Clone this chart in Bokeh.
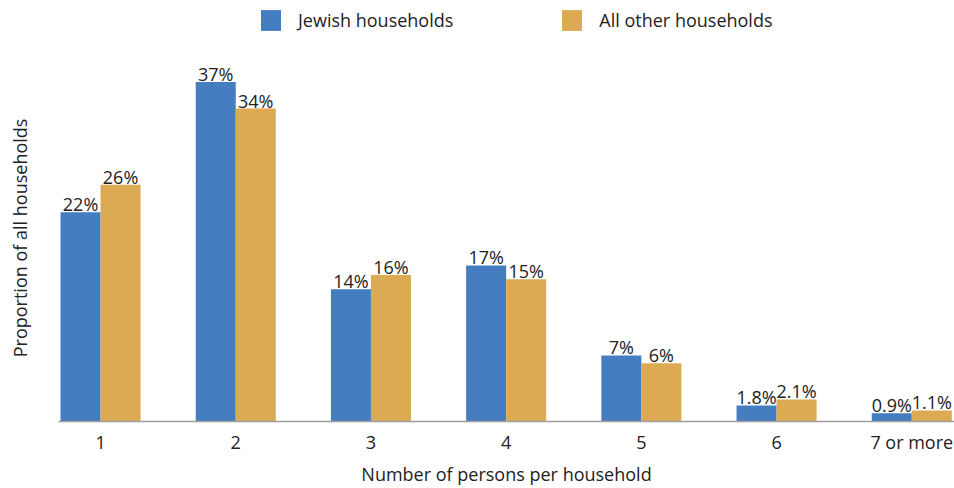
import math
from bokeh.plotting import figure
from bokeh.layouts import row
from bokeh.models import ColumnDataSource, FixedTicker, Legend, LegendItem, Range1d
from bokeh.transform import dodge
from bokeh.core.properties import value
from bokeh.embed import file_html
from bokeh.resources import INLINE

categories = ["1", "2", "3", "4", "5", "6", "7 or more"]
jewish = [22.8, 37.0, 14.4, 17.0, 7.2, 1.75, 0.9]
other = [25.8, 34.1, 15.95, 15.5, 6.35, 2.4, 1.2]
jewish_labels = ["22%", "37%", "14%", "17%", "7%", "1.8%", "0.9%"]
other_labels = ["26%", "34%", "16%", "15%", "6%", "2.1%", "1.1%"]
y_title = "Proportion of all households"
x_title = "Number of persons per household"

FONT = "Open Sans"
FS = "18px"
BLUE = "#447DC0"
GOLD = "#DCAA52"
TXT = "#222222"

xs = list(range(1, len(categories) + 1))
src = ColumnDataSource(dict(x=xs, jewish=jewish, other=other,
                            jl=jewish_labels, ol=other_labels))

p = figure(width=896, height=488, output_backend="svg", toolbar_location=None,
           x_range=Range1d(0.689, 7.316), y_range=Range1d(0, 45.87),
           min_border_left=0, min_border_right=0, min_border_top=0, min_border_bottom=0)
p.outline_line_color = None
p.xgrid.visible = False
p.ygrid.visible = False
p.yaxis.visible = False

# left strip holding the vertical axis title (frames are aligned in the row)
side = figure(width=58, height=488, output_backend="svg", toolbar_location=None,
              x_range=Range1d(0, 58), y_range=p.y_range, min_border=0)
side.axis.visible = False
side.grid.visible = False
side.outline_line_color = None
side.text(x=[19], y=[20.0], text=[y_title], angle=math.pi / 2,
          text_align="center", text_baseline="middle",
          text_font=value(FONT), text_font_size=FS, text_color=TXT)

w = 0.296
r1 = p.vbar(x=dodge("x", -w / 2, range=p.x_range), top="jewish", width=w, bottom=0,
            source=src, fill_color=BLUE, line_color=None)
r2 = p.vbar(x=dodge("x", w / 2, range=p.x_range), top="other", width=w, bottom=0,
            source=src, fill_color=GOLD, line_color=None)

p.text(x=dodge("x", -w / 2, range=p.x_range), y="jewish", text="jl", source=src,
       text_align="center", text_baseline="alphabetic", y_offset=-8,
       text_font=value(FONT), text_font_size=FS, text_color=TXT)
p.text(x=dodge("x", w / 2, range=p.x_range), y="other", text="ol", source=src,
       text_align="center", text_baseline="alphabetic", y_offset=-8,
       text_font=value(FONT), text_font_size=FS, text_color=TXT)

ax = p.xaxis[0]
ax.ticker = FixedTicker(ticks=xs)
ax.major_label_overrides = {x: c for x, c in zip(xs, categories)}
ax.major_tick_line_color = None
ax.minor_tick_line_color = None
ax.major_tick_out = 0
ax.major_tick_in = 0
ax.axis_line_color = "#9e9e9e"
ax.axis_line_width = 1.5
ax.major_label_standoff = 8
ax.major_label_text_font = FONT
ax.major_label_text_font_size = FS
ax.major_label_text_color = TXT
ax.axis_label = x_title
ax.axis_label_standoff = 5
ax.axis_label_text_font = FONT
ax.axis_label_text_font_size = FS
ax.axis_label_text_font_style = "normal"
ax.axis_label_text_color = TXT

legend = Legend(items=[LegendItem(label="Jewish households", renderers=[r1]),
                       LegendItem(label="All other households", renderers=[r2])],
                orientation="horizontal", location=(200, 388),
                glyph_width=25, glyph_height=26, label_standoff=15, spacing=106,
                label_text_font=FONT, label_text_font_size=FS,
                label_text_color=TXT, border_line_color=None,
                background_fill_alpha=0, padding=0, margin=0)
p.add_layout(legend, "center")

layout = row(side, p, spacing=0)
open("out.html", "w").write(file_html(layout, INLINE))
